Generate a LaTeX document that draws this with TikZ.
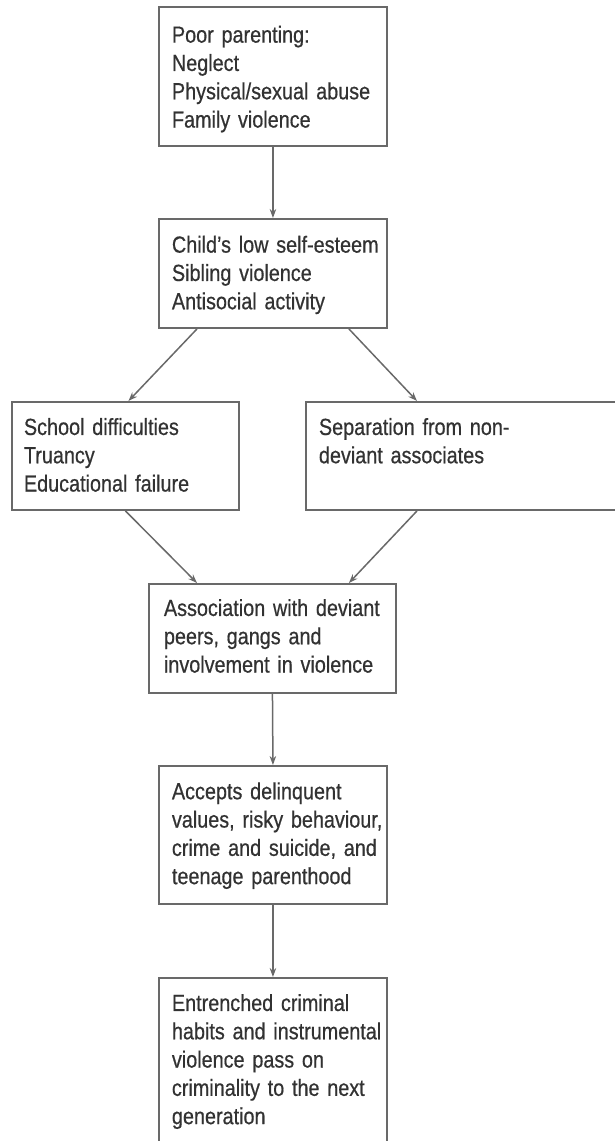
\documentclass[tikz,border=0pt]{standalone}
\usepackage{fontspec}
\setmainfont[FakeStretch=0.85,FakeBold=0.6]{Liberation Sans}
\usetikzlibrary{calc,arrows.meta,positioning}
\definecolor{cyclegray}{RGB}{105,105,105}
\definecolor{cycletext}{RGB}{50,50,50}

\begin{document}
\begin{tikzpicture}[x=1pt,y=-1pt,
  stage/.style={draw=cyclegray,line width=1.9pt,anchor=north west,
    inner xsep=13pt,inner ysep=0pt,text=cycletext,text width=202pt,
    execute at begin node={\hyphenpenalty=10000\rightskip=0pt plus 1fil minus 40pt\relax},
    font=\fontsize{23.3}{28.3}\selectfont},
  flow/.style={cyclegray,line width=1.5pt,-{Stealth[length=9pt,width=6.5pt]}}]
  \useasboundingbox (0,0) rectangle (615,1141);
  \clip (0,0) rectangle (615,1141);

  \node[stage,text height=35.7pt,text depth=103.3pt] (poor) at (158,6)
    {Poor parenting:\\Neglect\\Physical/sexual abuse\\Family violence};
  \node[stage,text height=33.7pt,text depth=75.3pt] (child) at (158,218)
    {Child’s low self-esteem\\Sibling violence\\Antisocial activity};
  \node[stage,inner xsep=12pt,text width=203pt,text height=33pt,text depth=75pt] (school) at (11,401)
    {School difficulties\\Truancy\\Educational failure};
  \node[stage,text width=314pt,text height=33pt,text depth=75pt] (sep) at (305,401)
    {Separation from non-\\deviant associates};
  \node[stage,inner xsep=15pt,text width=217pt,text height=32pt,text depth=77pt] (assoc) at (148,583)
    {Association with deviant\\peers, gangs and\\involvement in violence};
  \node[stage,text height=33.3pt,text depth=105pt] (accepts) at (158,765)
    {Accepts delinquent\\values, risky behaviour,\\crime and suicide, and\\teenage parenthood};
  \node[stage,text height=33pt,text depth=190pt] (entrenched) at (158,977)
    {Entrenched criminal\\habits and instrumental\\violence pass on\\criminality to the next\\generation};

  \draw[flow] (poor.south) -- (child.north);
  \draw[flow] ([xshift=39pt]child.south west) -- ([xshift=3pt]school.north);
  \draw[flow] ([xshift=-39pt]child.south east) -- ([xshift=112pt]sep.north west);
  \draw[flow] (school.south) -- ([xshift=49pt]assoc.north west);
  \draw[flow] ([xshift=112pt]sep.south west) -- ([xshift=-48pt]assoc.north east);
  \draw[flow] (assoc.south) -- (accepts.north);
  \draw[flow] (accepts.south) -- (entrenched.north);
\end{tikzpicture}
\end{document}
